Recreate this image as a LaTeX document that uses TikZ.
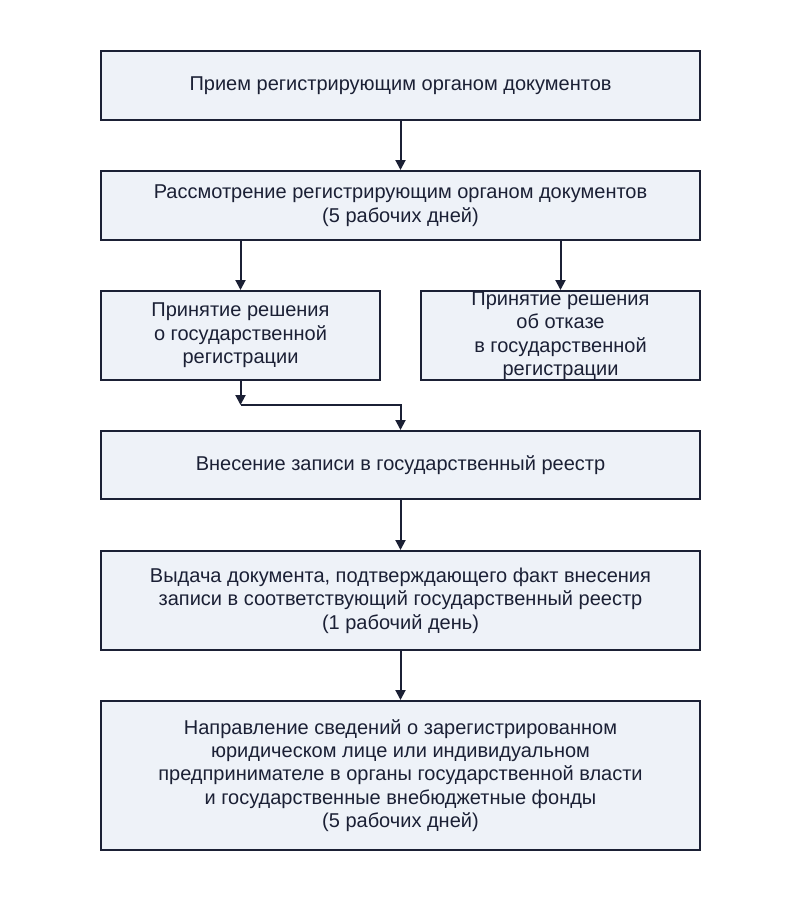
\documentclass[tikz,border=0pt]{standalone}
\usepackage{fontspec}
\setmainfont{Liberation Sans}
\usetikzlibrary{arrows.meta}
\definecolor{navy}{HTML}{1B2035}
\definecolor{boxfill}{HTML}{EEF2F8}
\tikzset{
  flowbox/.style={draw=navy, line width=2pt, fill=boxfill, text=navy, align=center,
    inner sep=0pt, font=\fontsize{20}{23.4}\selectfont},
  arr/.style={draw=navy, line width=2pt, -{Triangle[length=10pt,width=10pt]}}
}
\begin{document}
\begin{tikzpicture}[x=1pt,y=-1pt]
\useasboundingbox (0,0) rectangle (800,900);
\node[flowbox, minimum width=599pt, minimum height=69pt] (b1) at (400.5,85.5)
  {Прием регистрирующим органом документов};
\node[flowbox, minimum width=599pt, minimum height=69pt] (b2) at (400.5,205.5)
  {Рассмотрение регистрирующим органом документов\\(5 рабочих дней)};
\node[flowbox, minimum width=279pt, minimum height=89pt] (bl) at (240.5,335.5)
  {Принятие решения\\о государственной\\регистрации};
\node[flowbox, minimum width=279pt, minimum height=89pt] (br) at (560.5,335.5)
  {Принятие решения\\об отказе\\в государственной\\регистрации};
\node[flowbox, minimum width=599pt, minimum height=68pt] (b4) at (400.5,465)
  {Внесение записи в государственный реестр};
\node[flowbox, minimum width=599pt, minimum height=99pt] (b5) at (400.5,600.5)
  {Выдача документа, подтверждающего факт внесения\\записи в соответствующий государственный реестр\\(1 рабочий день)};
\node[flowbox, minimum width=599pt, minimum height=149pt] (b6) at (400.5,775.5)
  {Направление сведений о зарегистрированном\\юридическом лице или индивидуальном\\предпринимателе в органы государственной власти\\и государственные внебюджетные фонды\\(5 рабочих дней)};
\coordinate (j) at (240.5,405);
\draw[arr] (b1) -- (b2);
\draw[arr] (bl.north |- b2.south) -- (bl.north);
\draw[arr] (br.north |- b2.south) -- (br.north);
\draw[arr] (bl) -- (j);
\draw[arr] (j) -| (b4.north);
\draw[arr] (b4) -- (b5);
\draw[arr] (b5) -- (b6);
\end{tikzpicture}
\end{document}
